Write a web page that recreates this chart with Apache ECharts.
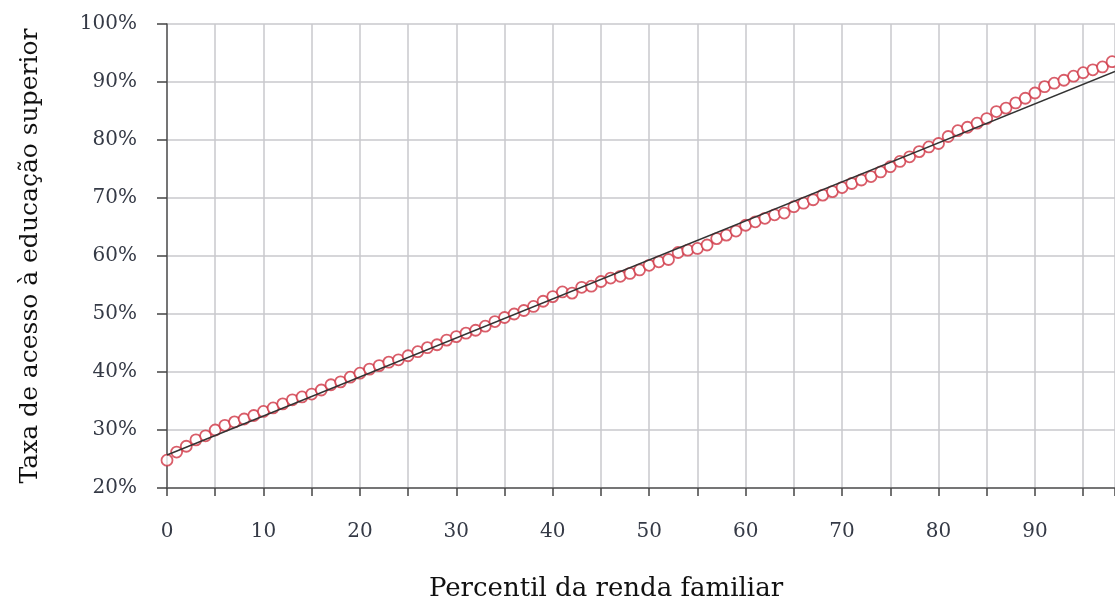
<!DOCTYPE html>
<html>
<head>
<meta charset="utf-8">
<script src="https://cdn.jsdelivr.net/npm/echarts@6/dist/echarts.min.js"></script>
<style>
html,body{margin:0;padding:0;background:#fff;overflow:hidden;}
#chart{width:1115px;height:604px;}
</style>
</head>
<body>
<div id="chart"></div>
<script>
// Percentile of family income (x) and access rate to higher education (%, y)
const percentiles = [];
for (let i = 0; i <= 98; i++) percentiles.push(i);
const accessRate = [
  24.8, 26.2, 27.2, 28.3, 29.0, 30.0, 30.8, 31.4, 31.9, 32.5,
  33.2, 33.8, 34.5, 35.2, 35.7, 36.2, 36.9, 37.8, 38.3, 39.1,
  39.8, 40.5, 41.1, 41.7, 42.1, 42.8, 43.5, 44.2, 44.7, 45.5,
  46.1, 46.7, 47.2, 47.9, 48.7, 49.4, 50.0, 50.6, 51.3, 52.2,
  53.0, 53.8, 53.6, 54.6, 54.8, 55.6, 56.2, 56.5, 57.0, 57.6,
  58.4, 59.0, 59.4, 60.6, 61.0, 61.3, 61.9, 63.0, 63.6, 64.3,
  65.3, 65.9, 66.5, 67.1, 67.4, 68.5, 69.1, 69.7, 70.5, 71.1,
  71.8, 72.5, 73.1, 73.7, 74.5, 75.4, 76.3, 77.1, 78.0, 78.8,
  79.4, 80.6, 81.6, 82.2, 82.9, 83.7, 84.9, 85.5, 86.4, 87.2,
  88.1, 89.2, 89.8, 90.3, 91.0, 91.6, 92.1, 92.6, 93.5
];
// Linear trend line endpoints
const trendX = [0, 98.3];
const trendY = [25.7, 91.8];

const xMin = 0, xMax = 98.3, xInterval = 5;
const yMin = 20, yMax = 100, yInterval = 10;

const chart = echarts.init(document.getElementById('chart'), null, {renderer: 'canvas'});
const labelColor = '#353a46';
const serif = '"DejaVu Serif", "Liberation Serif", serif';

chart.setOption({
  animation: false,
  backgroundColor: '#ffffff',
  grid: {left: 167, right: 0, top: 24, bottom: 116, containLabel: false, outerBoundsMode: 'none'},
  xAxis: {
    type: 'value',
    min: xMin, max: xMax, interval: xInterval,
    name: 'Percentil da renda familiar',
    nameLocation: 'middle',
    nameGap: 88,
    nameTextStyle: {fontFamily: serif, fontSize: 26, color: '#111', padding: [0, 70, 0, 0]},
    axisLine: {show: true, lineStyle: {color: '#555', width: 1.5}},
    axisTick: {show: true, length: 8, lineStyle: {color: '#444', width: 1.5}},
    axisLabel: {
      margin: 34,
      fontFamily: serif, fontSize: 20, color: labelColor,
      formatter: function (v) { return (Math.abs(v % 10) < 1e-9) ? String(v) : ''; }
    },
    splitLine: {show: true, lineStyle: {color: '#c8c8cc', width: 1.5}}
  },
  yAxis: {
    type: 'value',
    min: yMin, max: yMax, interval: yInterval,
    name: 'Taxa de acesso à educação superior',
    nameLocation: 'middle',
    nameGap: 124,
    nameTextStyle: {fontFamily: serif, fontSize: 25, color: '#111'},
    axisLine: {show: true, lineStyle: {color: '#555', width: 1.5}},
    axisTick: {show: true, length: 10, lineStyle: {color: '#444', width: 1.5}},
    axisLabel: {
      margin: 30,
      fontFamily: serif, fontSize: 20, color: labelColor,
      formatter: '{value}%'
    },
    splitLine: {show: true, lineStyle: {color: '#c8c8cc', width: 1.5}}
  },
  series: [
    {
      type: 'scatter',
      data: percentiles.map((x, i) => [x, accessRate[i]]),
      symbol: 'circle',
      symbolSize: 11,
      itemStyle: {color: '#ffffff', borderColor: '#cf3444', borderWidth: 1.8},
      z: 2
    },
    {
      type: 'line',
      data: trendX.map((x, i) => [x, trendY[i]]),
      showSymbol: false,
      symbol: 'none',
      lineStyle: {color: '#333', width: 1.5},
      z: 3
    }
  ]
});
</script>
</body>
</html>
